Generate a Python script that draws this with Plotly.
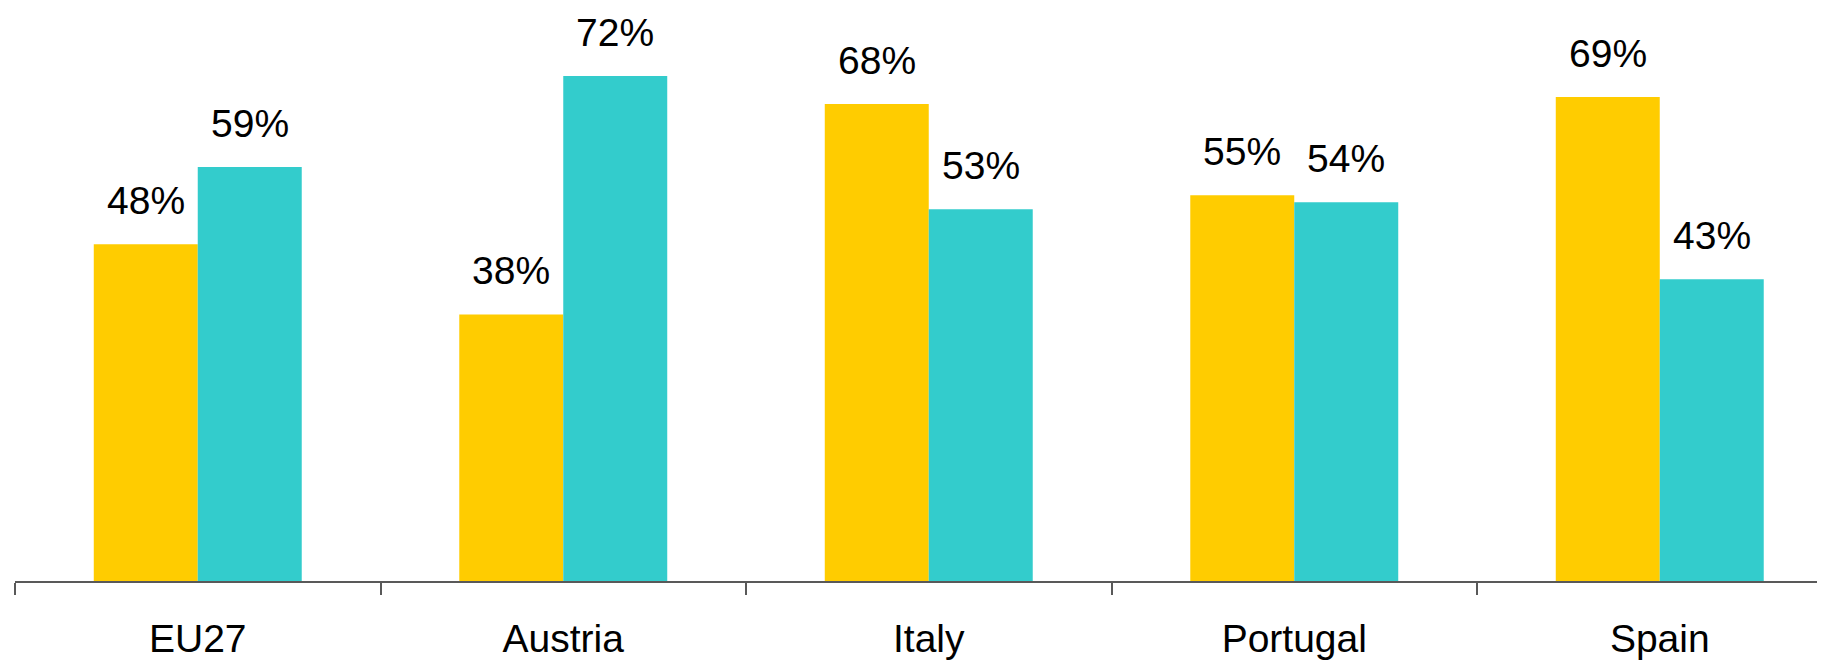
import plotly.graph_objects as go

categories = ["EU27", "Austria", "Italy", "Portugal", "Spain"]
series_a = [48, 38, 68, 55, 69]
series_b = [59, 72, 53, 54, 43]
labels_a = ["48%", "38%", "68%", "55%", "69%"]
labels_b = ["59%", "72%", "53%", "54%", "43%"]

YELLOW = "#FFCC00"
TEAL = "#33CCCC"
FONT = "Liberation Sans, Arial, Helvetica, sans-serif"
FS = 39

fig = go.Figure()
fig.add_trace(go.Bar(x=categories, y=series_a, marker=dict(color=YELLOW, line=dict(width=0)),
                     hoverinfo="skip", showlegend=False))
fig.add_trace(go.Bar(x=categories, y=series_b, marker=dict(color=TEAL, line=dict(width=0)),
                     hoverinfo="skip", showlegend=False))

annotations = []
for i, c in enumerate(categories):
    annotations.append(dict(x=c, y=series_a[i], xref="x", yref="y", text=labels_a[i],
                            showarrow=False, xshift=-52, yanchor="bottom", yshift=20,
                            font=dict(family=FONT, size=FS, color="#000000")))
    annotations.append(dict(x=c, y=series_b[i], xref="x", yref="y", text=labels_b[i],
                            showarrow=False, xshift=52, yanchor="bottom", yshift=20,
                            font=dict(family=FONT, size=FS, color="#000000")))

fig.update_layout(
    width=1825, height=660,
    margin=dict(l=7, r=0, t=0, b=87),
    paper_bgcolor="white", plot_bgcolor="white",
    barmode="group", bargap=0.431, bargroupgap=0,
    font=dict(family=FONT, size=FS, color="#000000"),
    annotations=annotations,
    xaxis=dict(
        type="category", range=[-0.5, 4.474],
        showline=True, linecolor="#595959", linewidth=1.5,
        ticks="outside", tickson="boundaries", ticklen=12, tickwidth=1.5, tickcolor="#595959",
        ticklabelstandoff=22,
        tickfont=dict(family=FONT, size=FS, color="#000000"),
        showgrid=False, zeroline=False,
    ),
    yaxis=dict(range=[0, 81.68], visible=False, showgrid=False, zeroline=False),
)

fig.write_html("out.html")
